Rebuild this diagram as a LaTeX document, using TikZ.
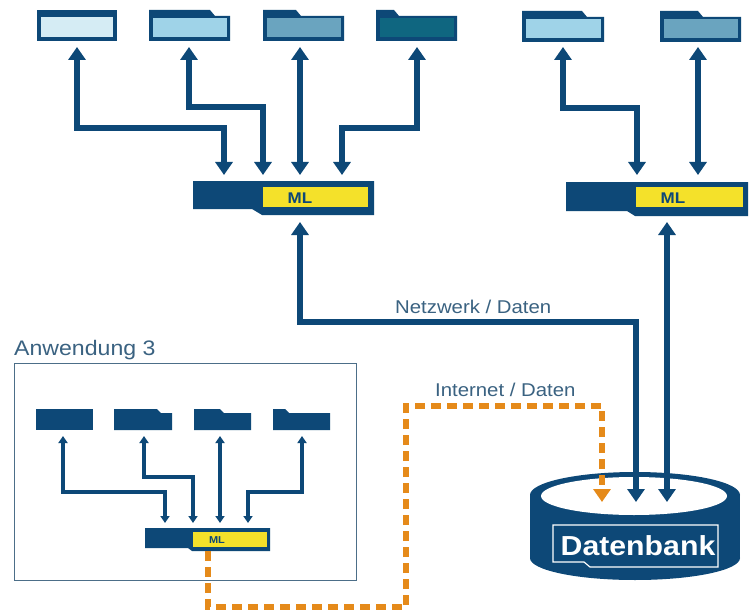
\documentclass[tikz,border=0pt]{standalone}
\usepackage{fontspec}
\setmainfont{Liberation Sans}[FakeStretch=1.1]
\usetikzlibrary{arrows.meta}
\definecolor{dkb}{HTML}{0D4877}
\definecolor{fa}{HTML}{D5ECF4}
\definecolor{fb}{HTML}{9FD3E8}
\definecolor{fc}{HTML}{6AA4BF}
\definecolor{fd}{HTML}{0F6680}
\definecolor{yel}{HTML}{F4E12A}
\definecolor{org}{HTML}{E58A1A}
\definecolor{lbl}{HTML}{3A6281}
\definecolor{boxc}{HTML}{4C6E88}
\newcommand\topfolder[5]{%
  \fill[dkb] (#1,#5) -- (#3,#5) -- ({#3+5},{#5+6}) -- (#2,{#5+6}) -- (#2,{#5+31}) -- (#1,{#5+31}) -- cycle;
  \fill[#4] ({#1+3.5},{#5+8}) rectangle ({#2-3.5},{#5+27});
}
\newcommand\smfolder[3]{%
  \fill[dkb] (#1,409) -- (#3,409) -- ({#3+4},413) -- (#2,413) -- (#2,430) -- (#1,430) -- cycle;
}
\tikzset{
  bigarr/.style={dkb, line width=6.5pt, {Triangle[width=17pt,length=13pt]}-{Triangle[width=17pt,length=13pt]}},
  smarr/.style={dkb, line width=3.3pt, {Triangle[width=9pt,length=7pt]}-{Triangle[width=9pt,length=7pt]}},
  orgarr/.style={org, line width=6.5pt, dash pattern=on 10pt off 6pt, -{Triangle[width=17pt,length=13pt]}},
  lab/.style={text=lbl, inner sep=0pt, font=\fontsize{18.5}{20}\selectfont},
  mltext/.style={text=dkb, inner sep=0pt, font=\bfseries\fontsize{15.5}{16}\selectfont},
}
\begin{document}
\begin{tikzpicture}[x=1pt,y=-1pt]
\useasboundingbox (0,0) rectangle (755,615);
\fill[white] (0,0) rectangle (755,615);

% ---------- top-left folders ----------
\fill[dkb] (37,10) rectangle (117,41);
\fill[fa] (41,17) rectangle (113,37);
\topfolder{149}{230}{210}{fb}{10}
\topfolder{263}{344}{296}{fc}{10}
\topfolder{376}{457}{394}{fd}{10}
% ---------- top-right folders ----------
\topfolder{522}{604}{582}{fb}{11}
\topfolder{660}{741}{698}{fc}{11}

% ---------- ML bars ----------
\fill[dkb] (193,181) -- (374,181) -- (374,215) -- (262,215) -- (252,209) -- (193,209) -- cycle;
\fill[yel] (263,187) rectangle (368,207);
\node[mltext, anchor=base] (ml1) at (300,204) {ML};

\fill[dkb] (566,182) -- (748,182) -- (748,216) -- (635,216) -- (627,211) -- (566,211) -- cycle;
\fill[yel] (636,187) rectangle (743,207);
\node[mltext, anchor=base] (ml2) at (673,204) {ML};

% ---------- endpoints ----------
\coordinate (t1) at (77,47);   \coordinate (b1) at (224,175);
\coordinate (t2) at (189,47);  \coordinate (b2) at (263,175);
\coordinate (t3) at (300,47);  \coordinate (b3) at (300,175);
\coordinate (t4) at (417,47);  \coordinate (b4) at (342,175);
\coordinate (t5) at (563,47);  \coordinate (b5) at (637,175);
\coordinate (t6) at (698,47);  \coordinate (b6) at (698,175);
\coordinate (n1) at (300,222); \coordinate (d1) at (636,502);
\coordinate (n2) at (667,222); \coordinate (d2) at (667,502);

\draw[bigarr] (t1) -- (77,128) -| (b1);
\draw[bigarr] (t2) -- (189,107) -| (b2);
\draw[bigarr] (t3) -- (b3);
\draw[bigarr] (t4) -- (417,128) -| (b4);
\draw[bigarr] (t5) -- (563,108) -| (b5);
\draw[bigarr] (t6) -- (b6);

% ---------- Anwendung 3 ----------
\draw[boxc, line width=1pt] (14,363) rectangle (356,580);
\node[lab, anchor=base west, font=\fontsize{21}{22}\selectfont] (anw) at (14,355) {Anwendung 3};
\fill[dkb] (36,409) rectangle (93,430);
\smfolder{114}{172}{157}
\smfolder{194}{251}{220}
\smfolder{273}{330}{285}
\fill[dkb] (145,528) -- (270,528) -- (270,551) -- (192,551) -- (188,548) -- (145,548) -- cycle;
\fill[yel] (193,532) rectangle (267,547);
\node[mltext, anchor=base, font=\bfseries\fontsize{10}{11}\selectfont] (ml3) at (217,543.5) {ML};

\coordinate (s1) at (63,436);  \coordinate (e1) at (165,523);
\coordinate (s2) at (144,436); \coordinate (e2) at (193,523);
\coordinate (s3) at (220,436); \coordinate (e3) at (220,523);
\coordinate (s4) at (302,436); \coordinate (e4) at (248,523);
\draw[smarr] (s1) -- (63,492) -| (e1);
\draw[smarr] (s2) -- (144,477) -| (e2);
\draw[smarr] (s3) -- (e3);
\draw[smarr] (s4) -- (302,492) -| (e4);

% ---------- database ----------
\fill[dkb] (530,495) rectangle (740,558);
\fill[dkb] (635,558) ellipse [x radius=105, y radius=22];
\fill[dkb] (635,495) ellipse [x radius=105, y radius=23];
\fill[white] (634,496) ellipse [x radius=93, y radius=19];
\draw[white, line width=1.2pt] (553,525) -- (718,525) -- (718,567) -- (590,567) -- (584,562) -- (553,562) -- cycle;
\node[text=white, inner sep=0pt, anchor=base, font=\bfseries\fontsize{27.5}{30}\selectfont] (db) at (638,555) {Datenbank};

% ---------- network connectors ----------
\draw[bigarr] (n1) -- (300,322) -| (d1);
\draw[bigarr] (n2) -- (d2);
\node[lab, anchor=base west] (netz) at (395,313) {Netzwerk / Daten};

\coordinate (o1) at (208,551);
\coordinate (o2) at (602,502);
\draw[orgarr] (o1) -- (208,607) -- (406,607) -- (406,406) -| (o2);
\node[lab, anchor=base west] (inet) at (435,396) {Internet / Daten};
\end{tikzpicture}
\end{document}
